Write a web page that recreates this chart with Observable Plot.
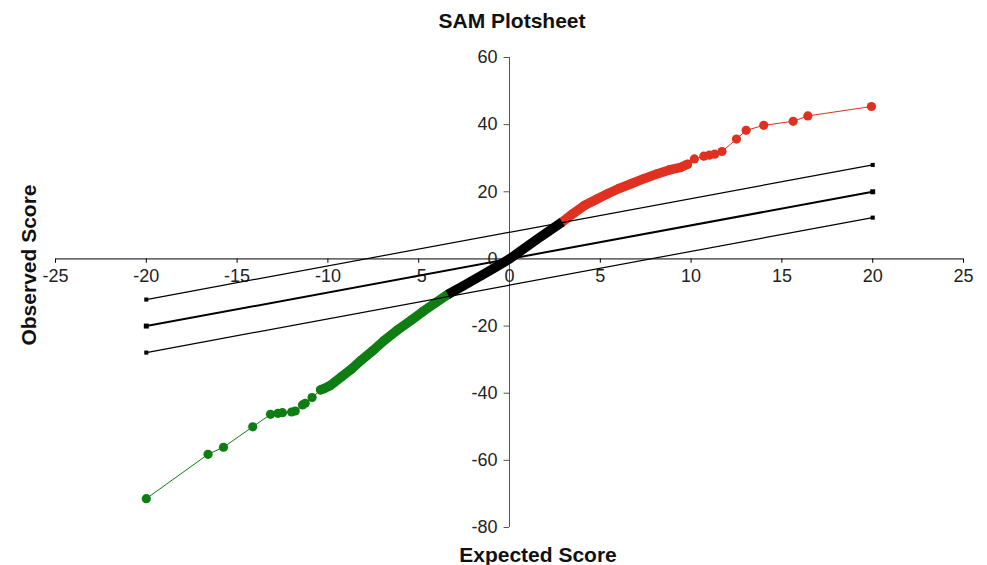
<!DOCTYPE html>
<html>
<head>
<meta charset="utf-8">
<script src="https://cdn.jsdelivr.net/npm/d3@7"></script>
<script src="https://cdn.jsdelivr.net/npm/@observablehq/plot@0.6"></script>
<style>
  html, body { margin: 0; padding: 0; background: #fff; }
  #wrap { position: relative; width: 987px; height: 565px; font-family: "Liberation Sans", Arial, Helvetica, sans-serif; }
  .lbl { position: absolute; font-weight: bold; color: #111; white-space: nowrap; font-size: 21px; }
  #title { left: 512px; top: 21px; transform: translate(-50%, -50%); }
  #xtitle { left: 538px; top: 555px; transform: translate(-50%, -50%); }
  #ytitle { left: 29px; top: 265px; transform: translate(-50%, -50%) rotate(-90deg); }
  svg { position: absolute; left: 0; top: 0; }
</style>
</head>
<body>
<div id="wrap">
  <div id="chart"></div>
  <div id="title" class="lbl">SAM Plotsheet</div>
  <div id="xtitle" class="lbl">Expected Score</div>
  <div id="ytitle" class="lbl">Observed Score</div>
</div>
<script>
// Tick values
const xTicks = [-25, -20, -15, -10, -5, 0, 5, 10, 15, 20, 25];
const yTicks = [-80, -60, -40, -20, 0, 20, 40, 60];

// Significant negative genes (green), expected vs observed score
const greenX = [-20.0, -16.6, -15.75, -14.14, -13.16, -12.75, -12.5, -12.0, -11.8, -11.4, -11.25, -10.87, -10.4, -10.2, -9.9, -9.6, -9.27, -8.7, -8.17, -7.5, -6.9, -6.2, -5.42, -4.8, -4.14, -3.4];
const greenY = [-71.4, -58.2, -56.1, -50.0, -46.3, -46.0, -45.8, -45.6, -45.3, -43.5, -43.0, -41.3, -39.0, -38.6, -37.8, -36.6, -35.2, -32.8, -30.2, -27.2, -24.3, -21.3, -18.3, -15.8, -13.3, -10.6];
const greenDenseFrom = -10.4;

// Non-significant genes (black)
const blackX = [-3.4, -2.5, -1.56, -0.8, 0, 0.64, 1.55, 2.2, 2.9];
const blackY = [-10.6, -7.9, -5.0, -2.6, 0, 2.5, 6.0, 8.4, 11.0];

// Significant positive genes (red)
const redX = [2.9, 3.5, 4.12, 4.8, 5.4, 6.0, 6.7, 7.4, 8.16, 8.8, 9.44, 9.8, 10.18, 10.7, 11.0, 11.3, 11.7, 12.5, 13.03, 14.0, 15.62, 16.43, 19.93];
const redY = [11.0, 13.5, 15.9, 17.8, 19.4, 20.9, 22.4, 23.9, 25.4, 26.5, 27.3, 28.2, 29.8, 30.6, 30.9, 31.2, 32.0, 35.7, 38.3, 39.8, 41.0, 42.6, 45.4];
const redDenseTo = 9.8;

// Reference lines (45° line and delta band)
const refX = [-20, 20];
const midY = [-20, 20];
const upperY = [-12.1, 28.0];
const lowerY = [-27.9, 12.3];

const zip = (xs, ys) => xs.map((x, i) => ({x, y: ys[i]}));
const green = zip(greenX, greenY);
const black = zip(blackX, blackY);
const red = zip(redX, redY);
const greenDense = green.filter(d => d.x >= greenDenseFrom);
const redDense = red.filter(d => d.x <= redDenseTo);
const mid = zip(refX, midY), upper = zip(refX, upperY), lower = zip(refX, lowerY);

const GREEN = "#0e7d12", RED = "#e0301f", BLACK = "#000";
const font = "Liberation Sans, Arial, Helvetica, sans-serif";

const plot = Plot.plot({
  width: 987,
  height: 565,
  marginLeft: 55,
  marginRight: 24,
  marginTop: 57,
  marginBottom: 38,
  x: {domain: [-25, 25], axis: null},
  y: {domain: [-80, 60], axis: null},
  style: {fontFamily: font, background: "white"},
  marks: [
    // axes through origin
    Plot.ruleY([0], {x1: -25, x2: 25, stroke: "#000", strokeWidth: 1}),
    Plot.ruleX([0], {y1: -80, y2: 60, stroke: "#555", strokeWidth: 1}),
    Plot.ruleX(xTicks, {x: d => d, y1: 0, y2: -1.3, stroke: "#000"}),
    Plot.ruleY(yTicks, {y: d => d, x1: 0, x2: -0.3, stroke: "#555"}),
    Plot.text(xTicks, {x: d => d, y: 0, dy: 17, text: d => String(d), fontSize: 18, fill: "#222", textAnchor: "middle"}),
    Plot.text(yTicks, {x: 0, y: d => d, dx: -12, text: d => String(d), fontSize: 18, fill: "#222", textAnchor: "end"}),
    // green
    Plot.line(green, {x: "x", y: "y", stroke: GREEN, strokeWidth: 1}),
    Plot.line(greenDense, {x: "x", y: "y", stroke: GREEN, strokeWidth: 9.5, strokeLinecap: "round", strokeLinejoin: "round"}),
    Plot.dot(green, {x: "x", y: "y", r: 4.6, fill: GREEN, stroke: "none"}),
    // red
    Plot.line(red, {x: "x", y: "y", stroke: RED, strokeWidth: 1}),
    Plot.line(redDense, {x: "x", y: "y", stroke: RED, strokeWidth: 9.5, strokeLinecap: "round", strokeLinejoin: "round"}),
    Plot.dot(red, {x: "x", y: "y", r: 4.6, fill: RED, stroke: "none"}),
    // black
    Plot.line(black, {x: "x", y: "y", stroke: BLACK, strokeWidth: 9.5, strokeLinecap: "butt", strokeLinejoin: "round"}),
    // reference lines
    Plot.line(upper, {x: "x", y: "y", stroke: "#000", strokeWidth: 1.2}),
    Plot.line(lower, {x: "x", y: "y", stroke: "#000", strokeWidth: 1.2}),
    Plot.line(mid, {x: "x", y: "y", stroke: "#000", strokeWidth: 2}),
    Plot.dot(upper, {x: "x", y: "y", symbol: "square", r: 2.3, fill: "#000"}),
    Plot.dot(lower, {x: "x", y: "y", symbol: "square", r: 2.3, fill: "#000"}),
    Plot.dot(mid, {x: "x", y: "y", symbol: "square", r: 2.8, fill: "#000"})
  ]
});
document.getElementById("chart").appendChild(plot);
</script>
</body>
</html>
